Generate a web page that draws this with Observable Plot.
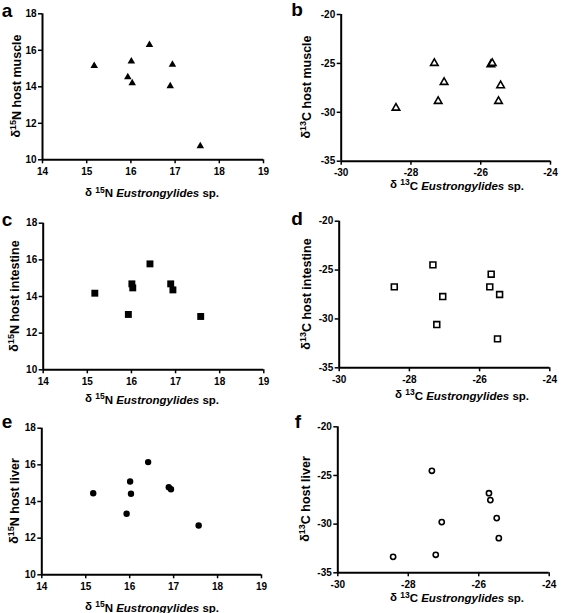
<!DOCTYPE html>
<html><head><meta charset="utf-8">
<script src="https://cdn.jsdelivr.net/npm/d3@7"></script>
<script src="https://cdn.jsdelivr.net/npm/@observablehq/plot@0.6"></script>
<style>
body{margin:0;background:#fff;}
#wrap{position:relative;width:567px;height:613px;overflow:hidden;}
#wrap svg{position:absolute;}
</style></head><body><div id="wrap"></div>
<script>
// δ15N of Eustrongylides sp. (x in panels a, c, e)
const xN = [15.17, 15.93, 16.01, 16.03, 16.42, 16.89, 16.94, 17.57];
const muscleN = [15.15, 14.53, 15.39, 14.20, 16.30, 14.04, 15.22, 10.75];
const intestineN = [14.18, 13.02, 14.69, 14.47, 15.78, 14.69, 14.36, 12.91];
const liverN = [14.45, 13.33, 15.09, 14.42, 16.15, 14.78, 14.67, 12.69];
// δ13C of Eustrongylides sp. (x in panels b, d, f)
const xC = [-28.43, -27.33, -27.22, -27.05, -25.71, -25.67, -25.43, -25.49];
const muscleC = [-29.55, -24.98, -28.86, -26.92, -25.11, -24.98, -27.26, -28.86];
const intestineC = [-26.72, -24.47, -30.57, -27.71, -26.72, -25.42, -27.50, -32.04];
const liverC = [-33.36, -24.52, -33.15, -29.79, -26.82, -27.53, -31.44, -29.38];
// tick labels
const ticksXN = [14, 15, 16, 17, 18, 19];
const ticksYN = [10, 12, 14, 16, 18];
const ticksXC = [-30, -28, -26, -24];
const ticksYC = [-35, -30, -25, -20];
const letters = ["a", "b", "c", "d", "e", "f"];
const tissues = ["muscle", "muscle", "intestine", "intestine", "liver", "liver"];

const FONT = '"Liberation Sans", Arial, Helvetica, sans-serif';

// layout (page coordinates)
const layout = [
  {cell:[0,0,283,205],   plot:[42,263,13.3,159.3],   xlab:[152,191.7], ylab:[15,86],   letter:[7,17]},
  {cell:[283,0,284,205], plot:[340.7,550,14,160.7],  xlab:[457,184],   ylab:[305,87],  letter:[297,16]},
  {cell:[0,205,283,205], plot:[42.7,263.3,222.7,369.3], xlab:[152,398], ylab:[13,296], letter:[7,226]},
  {cell:[283,205,284,205], plot:[338.7,549.3,220.7,367.3], xlab:[462,394], ylab:[305,294], letter:[297,225]},
  {cell:[0,410,283,203], plot:[41.3,261,427.7,574.3], xlab:[152,606], ylab:[13,501], letter:[7,428]},
  {cell:[283,410,284,203], plot:[337.3,548.7,426.3,572.3], xlab:[457,596.7], ylab:[304,499], letter:[298,428]}
];

const panelData = [
  {x:xN, y:muscleN, iso:"N"}, {x:xC, y:muscleC, iso:"C"},
  {x:xN, y:intestineN, iso:"N"}, {x:xC, y:intestineC, iso:"C"},
  {x:xN, y:liverN, iso:"N"}, {x:xC, y:liverC, iso:"C"}
];
const markStyles = [
  {symbol:"triangle", fill:"black", stroke:"none", r:2.8, sw:0},
  {symbol:"triangle", fill:"white", stroke:"black", r:2.8, sw:1.6},
  {symbol:"square", fill:"black", stroke:"none", r:3.9, sw:0},
  {symbol:"square", fill:"white", stroke:"black", r:3.3, sw:1.6},
  {symbol:"circle", fill:"black", stroke:"none", r:3.2, sw:0},
  {symbol:"circle", fill:"white", stroke:"black", r:2.6, sw:1.6}
];

const wrap = document.getElementById("wrap");

panelData.forEach((pd, i) => {
  const L = layout[i];
  const [cx, cy, cw, ch] = L.cell;
  const [pl, pr, pt, pb] = L.plot;
  const isN = pd.iso === "N";
  const xDom = isN ? [14, 19] : [-30, -24];
  const yDom = isN ? [10, 18] : [-35, -20];
  const ms = markStyles[i];
  const rows = pd.x.map((v, k) => ({x: v, y: pd.y[k]}));
  const fmt = d => String(d);

  const chart = Plot.plot({
    width: cw, height: ch,
    marginLeft: pl - cx, marginRight: cx + cw - pr,
    marginTop: pt - cy, marginBottom: cy + ch - pb,
    style: {fontFamily: FONT, fontSize: "10px", fontWeight: "bold", color: "black", background: "white", overflow: "visible"},
    x: {domain: xDom, ticks: isN ? ticksXN : ticksXC, tickFormat: fmt, tickSize: 4, tickPadding: 4, label: null},
    y: {domain: yDom, ticks: isN ? ticksYN : ticksYC, tickFormat: fmt, tickSize: 4, tickPadding: 2, label: null},
    marks: [
      Plot.ruleX([xDom[0]], {stroke: "black", strokeWidth: 2}),
      Plot.ruleY([yDom[0]], {stroke: "black", strokeWidth: 2}),
      Plot.dot(rows, {x: "x", y: "y", symbol: () => ms.symbol, r: ms.r, fill: ms.fill,
        stroke: ms.stroke, strokeWidth: ms.sw})
    ]
  });
  const svg = chart.tagName.toLowerCase() === "svg" ? chart : chart.querySelector("svg");
  wrap.appendChild(chart);
  chart.style.position = "absolute";
  chart.style.left = cx + "px";
  chart.style.top = cy + "px";

  const s = d3.select(svg);
  s.selectAll('g[aria-label$="tick"] path').attr("stroke-width", 1.5).attr("stroke", "black");

  const num = isN ? "15" : "13";
  const el = isN ? "N" : "C";

  // x title
  const xt = s.append("text")
    .attr("x", L.xlab[0] - cx).attr("y", L.xlab[1] - cy).attr("dy", "0.38em")
    .attr("text-anchor", "middle")
    .style("font-family", FONT).style("font-size", "11.5px").style("font-weight", "bold");
  xt.append("tspan").text("δ ");
  xt.append("tspan").attr("dy", "-0.4em").style("font-size", "8.5px").text(num);
  xt.append("tspan").attr("dy", "0.4em").text(el + " ");
  xt.append("tspan").style("font-style", "italic").text("Eustrongylides");
  xt.append("tspan").text(" sp.");

  // y title
  const yx = L.ylab[0] - cx, yy = L.ylab[1] - cy;
  const yt = s.append("text")
    .attr("transform", `translate(${yx},${yy}) rotate(-90)`)
    .attr("dy", "0.38em")
    .attr("text-anchor", "middle")
    .style("font-family", FONT).style("font-size", "12.5px").style("font-weight", "bold");
  yt.append("tspan").text("δ");
  yt.append("tspan").attr("dy", "-0.45em").style("font-size", "9px").text(num);
  yt.append("tspan").attr("dy", "0.45em").text(el + " host " + tissues[i]);

  // panel letter
  s.append("text")
    .attr("x", L.letter[0] - cx).attr("y", L.letter[1] - cy)
    .style("font-family", FONT).style("font-size", "19px").style("font-weight", "bold")
    .text(letters[i]);
});
</script>
</body></html>
